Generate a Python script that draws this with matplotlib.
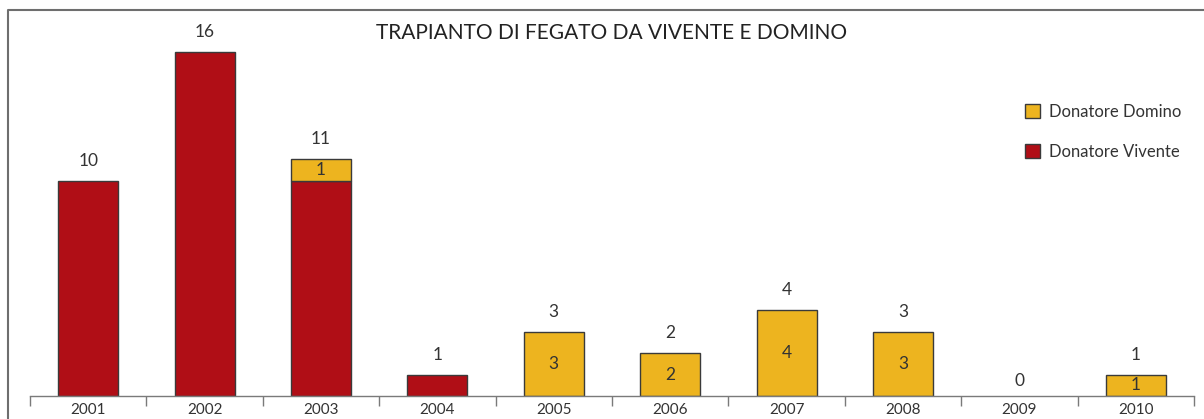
"""Trapianto di fegato da vivente e domino, 2001-2010."""

import matplotlib

matplotlib.use("Agg")
import matplotlib.pyplot as plt
from matplotlib.lines import Line2D
from matplotlib.patches import Patch

years = ["2001", "2002", "2003", "2004", "2005", "2006", "2007", "2008", "2009", "2010"]
vivente = [10, 16, 10, 1, 0, 0, 0, 0, 0, 0]
domino = [0, 0, 1, 0, 3, 2, 4, 3, 0, 1]

RED = "#B00E16"
YELLOW = "#EDB41F"
EDGE = "#3a3a3a"
AXIS_GREY = "#7a7a7a"
TEXT = "#333333"

plt.rcParams["font.family"] = ["Lato", "DejaVu Sans"]

fig = plt.figure(figsize=(12.04, 4.19), dpi=100)
ax = fig.add_axes([30 / 1204, 23 / 419, 1164 / 1204, 387 / 419])

x = list(range(len(years)))
width = 0.516

# skip empty segments so no flat edge line is drawn on the baseline
viv_idx = [i for i in x if vivente[i] > 0]
dom_idx = [i for i in x if domino[i] > 0]
ax.bar(viv_idx, [vivente[i] for i in viv_idx], width=width,
       color=RED, edgecolor=EDGE, linewidth=1.0)
ax.bar(dom_idx, [domino[i] for i in dom_idx], width=width,
       bottom=[vivente[i] for i in dom_idx], color=YELLOW, edgecolor=EDGE, linewidth=1.0)

for xi, v, d in zip(x, vivente, domino):
    total = v + d
    ax.annotate(str(total), (xi, total), xytext=(0, 20 if total else 15),
                textcoords="offset pixels", ha="center", va="center",
                fontsize=12.5, color=TEXT)
    if d:
        ax.text(xi, v + d / 2, str(d), ha="center", va="center",
                fontsize=12.5, color=TEXT)

ax.set_xlim(-0.5, len(years) - 0.5)
ax.set_ylim(0, 18)
ax.set_xticks(x, years)
ax.set_xticks([i - 0.5 for i in range(len(years) + 1)], minor=True)
ax.tick_params(axis="x", which="major", length=0, pad=5, labelsize=11, labelcolor=TEXT)
ax.tick_params(axis="x", which="minor", length=7, width=1.0, color=AXIS_GREY, direction="out")
ax.set_yticks([])
for side in ("top", "right", "left"):
    ax.spines[side].set_visible(False)
ax.spines["bottom"].set_color(AXIS_GREY)
ax.spines["bottom"].set_linewidth(1.0)

handles = [
    Patch(facecolor=YELLOW, edgecolor=EDGE, label="Donatore Domino"),
    Patch(facecolor=RED, edgecolor=EDGE, label="Donatore Vivente"),
]
fig.legend(handles=handles, loc="upper left", bbox_to_anchor=(1010 / 1204, 1 - 89 / 419),
           frameon=False, fontsize=12, handlelength=0.9, handleheight=0.9,
           handletextpad=0.55, labelspacing=1.45, labelcolor=TEXT)

fig.text(612 / 1204, 1 - 33 / 419, "TRAPIANTO DI FEGATO DA VIVENTE E DOMINO",
         ha="center", va="center", fontsize=15, color="#222222")

# outer frame (top and left edges only, the rest is cut off)
fig.add_artist(Line2D([7.5 / 1204, 7.5 / 1204, 1.0], [0, 1 - 10 / 419, 1 - 10 / 419],
                      transform=fig.transFigure, color="#6e6e6e", linewidth=1.5))

fig.savefig("out.png", dpi=100)
